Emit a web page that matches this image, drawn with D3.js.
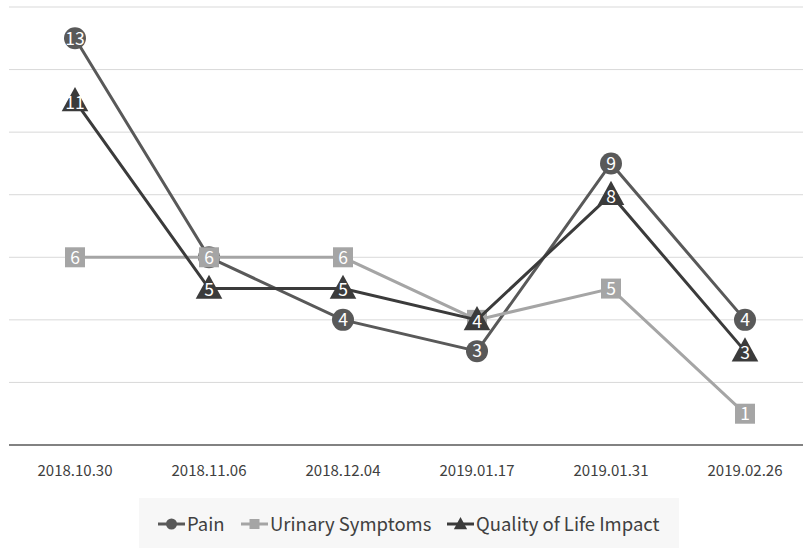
<!DOCTYPE html>
<html>
<head>
<meta charset="utf-8">
<script src="https://cdn.jsdelivr.net/npm/d3@7"></script>
<style>
  body { margin: 0; background: #fff; }
  svg { display: block; font-family: "Noto Sans CJK KR", "Noto Sans", sans-serif; }
</style>
</head>
<body>
<div id="chart"></div>
<script>
const dates = ['2018.10.30', '2018.11.06', '2018.12.04', '2019.01.17', '2019.01.31', '2019.02.26'];
const pain = [13, 6, 4, 3, 9, 4];
const urinary = [6, 6, 6, 4, 5, 1];
const qol = [11, 5, 5, 4, 8, 3];
const yTicks = [0, 2, 4, 6, 8, 10, 12, 14];

const series = [
  { name: 'Pain', values: pain, color: '#595959', shape: 'circle' },
  { name: 'Urinary Symptoms', values: urinary, color: '#a5a5a5', shape: 'square' },
  { name: 'Quality of Life Impact', values: qol, color: '#3b3b3b', shape: 'triangle' }
];

const W = 803, H = 548;
const svg = d3.select('#chart').append('svg').attr('width', W).attr('height', H);

const x = d3.scaleBand().domain(dates).range([8, 812]);
const y = d3.scaleLinear().domain([0, 14]).range([445, 7]);
const cx = d => x(d) + x.bandwidth() / 2;

// grid
svg.append('g')
  .selectAll('line')
  .data(yTicks.slice(1))
  .join('line')
  .attr('x1', 9).attr('x2', W)
  .attr('y1', d => y(d)).attr('y2', d => y(d))
  .attr('stroke', '#d9d9d9').attr('stroke-width', 1);

// x axis
const xAxis = svg.append('g')
  .attr('transform', `translate(0,${y(0)})`)
  .call(d3.axisBottom(x).tickSize(0).tickPadding(20));
xAxis.select('.domain').attr('stroke', '#595959').attr('stroke-width', 1.5).attr('d', `M9,0H${W}`);
xAxis.selectAll('text').attr('fill', '#404040').style('font-size', '15px')
  .style('font-family', '"Noto Sans CJK KR", "Noto Sans", sans-serif');

const line = d3.line().x((d, i) => cx(dates[i])).y(d => y(d));

function marker(g, shape, color, size) {
  if (shape === 'circle') {
    g.append('circle').attr('r', size).attr('fill', color);
  } else if (shape === 'square') {
    g.append('rect').attr('x', -size).attr('y', -size).attr('width', size * 2).attr('height', size * 2).attr('fill', color);
  } else {
    const s = size * 1.1;
    g.append('path').attr('d', `M0,${-s * 1.15}L${s * 1.1},${s * 0.85}L${-s * 1.1},${s * 0.85}Z`).attr('fill', color);
  }
}

series.forEach(s => {
  const g = svg.append('g');
  g.append('path').datum(s.values)
    .attr('d', line).attr('fill', 'none')
    .attr('stroke', s.color).attr('stroke-width', 3);
  s.values.forEach((v, i) => {
    const m = g.append('g').attr('transform', `translate(${cx(dates[i])},${y(v)})`);
    marker(m, s.shape, s.color, s.shape === 'square' ? 10 : 11);
    m.append('text')
      .attr('text-anchor', 'middle')
      .attr('dy', s.shape === 'triangle' ? '0.45em' : '0.36em')
      .attr('fill', '#fff')
      .style('font-size', '17.5px')
      .text(v);
  });
});

// legend
const lg = svg.append('g');
lg.append('rect').attr('x', 139).attr('y', 498).attr('width', 540).attr('height', 50).attr('fill', '#f7f7f7');
const legendX = [158, 241, 447];
series.forEach((s, i) => {
  const g = lg.append('g').attr('transform', `translate(${legendX[i]},524)`);
  g.append('line').attr('x1', 0).attr('x2', 27).attr('stroke', s.color).attr('stroke-width', 3);
  const m = g.append('g').attr('transform', 'translate(13.5,0)');
  marker(m, s.shape, s.color, s.shape === 'square' ? 5 : 5.5);
  g.append('text').attr('x', 29).attr('dy', '0.36em')
    .attr('fill', '#404040').style('font-size', '18.5px').text(s.name);
});
</script>
</body>
</html>
